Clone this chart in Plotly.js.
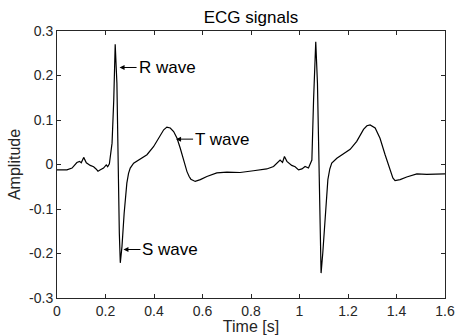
<!DOCTYPE html>
<html>
<head>
<meta charset="utf-8">
<script src="https://cdn.plot.ly/plotly-3.0.1.min.js"></script>
<style>html,body{margin:0;padding:0;background:#fff;}#chart{width:456px;height:335px;}</style>
</head>
<body>
<div id="chart"></div>
<script>
// Time axis (s)
var time = [0, 0.041, 0.062, 0.082, 0.093, 0.100, 0.110, 0.121, 0.137, 0.151, 0.161, 0.169, 0.179, 0.192, 0.203, 0.209, 0.216, 0.227, 0.234, 0.240, 0.247, 0.251, 0.257, 0.261, 0.268, 0.277, 0.288, 0.295, 0.302, 0.316, 0.343, 0.371, 0.398, 0.426, 0.440, 0.453, 0.467, 0.481, 0.495, 0.508, 0.522, 0.536, 0.545, 0.552, 0.570, 0.591, 0.618, 0.659, 0.701, 0.755, 0.810, 0.865, 0.893, 0.907, 0.920, 0.930, 0.938, 0.948, 0.968, 0.982, 0.996, 1.010, 1.023, 1.037, 1.044, 1.051, 1.058, 1.067, 1.074, 1.081, 1.085, 1.089, 1.096, 1.106, 1.117, 1.125, 1.133, 1.154, 1.181, 1.209, 1.236, 1.264, 1.278, 1.291, 1.312, 1.332, 1.353, 1.374, 1.385, 1.394, 1.415, 1.442, 1.484, 1.525, 1.600];
// ECG amplitude
var amplitude = [-0.012, -0.012, -0.008, 0.0045, 0.007, 0.004, 0.016, 0.004, -0.002, -0.005, -0.010, -0.015, -0.012, -0.008, -0.001, -0.005, 0.0015, 0.048, 0.145, 0.270, 0.183, -0.005, -0.154, -0.221, -0.184, -0.109, -0.042, -0.020, -0.008, 0.003, 0.012, 0.022, 0.040, 0.067, 0.078, 0.084, 0.082, 0.074, 0.059, 0.037, 0.010, -0.016, -0.027, -0.033, -0.038, -0.034, -0.027, -0.019, -0.017, -0.018, -0.014, -0.010, -0.0045, 0.003, 0.010, 0.0045, 0.018, 0.007, -0.002, -0.005, -0.012, -0.010, -0.0045, -0.008, 0.003, 0.010, 0.145, 0.276, 0.183, -0.005, -0.154, -0.244, -0.199, -0.109, -0.034, -0.010, 0.003, 0.014, 0.024, 0.034, 0.052, 0.079, 0.087, 0.089, 0.082, 0.059, 0.022, -0.016, -0.030, -0.036, -0.034, -0.028, -0.021, -0.022, -0.021];
// Annotations
var waveLabels = ["R wave", "T wave", "S wave"];
var waveX = [0.258, 0.491, 0.274];
var waveY = [0.218, 0.057, -0.191];

var FONT = "Liberation Sans, Arial, Helvetica, sans-serif";
var annotations = waveLabels.map(function (lab, i) {
  return {
    x: waveX[i], y: waveY[i], xref: 'x', yref: 'y',
    text: lab, showarrow: true, arrowhead: 2, arrowsize: 1, arrowwidth: 1,
    arrowcolor: '#000', ax: 17, ay: 0, xanchor: 'left', yanchor: 'middle',
    font: {family: FONT, size: 17, color: '#000'}
  };
});

var trace = {
  x: time, y: amplitude, type: 'scatter', mode: 'lines',
  line: {color: '#000', width: 1.2}, hoverinfo: 'skip'
};

var axisCommon = {
  showgrid: false, zeroline: false, showline: true, mirror: 'ticks',
  linecolor: '#262626', linewidth: 1, ticks: 'inside', ticklen: 4,
  tickcolor: '#262626', tickwidth: 1,
  tickfont: {family: FONT, size: 14, color: '#262626'}
};

var layout = {
  width: 456, height: 335,
  margin: {l: 57, r: 11, t: 31, b: 37, pad: 0},
  paper_bgcolor: '#fff', plot_bgcolor: '#fff',
  showlegend: false,
  title: {text: 'ECG signals', x: 0.5, xref: 'paper', y: 0.948, yref: 'container', yanchor: 'middle',
          font: {family: FONT, size: 17, color: '#000'}},
  xaxis: Object.assign({}, axisCommon, {
    range: [0, 1.6], tickvals: [0, 0.2, 0.4, 0.6, 0.8, 1, 1.2, 1.4, 1.6],
    ticktext: ['0', '0.2', '0.4', '0.6', '0.8', '1', '1.2', '1.4', '1.6'],
    title: {text: 'Time [s]', standoff: 0, font: {family: FONT, size: 16, color: '#262626'}}
  }),
  yaxis: Object.assign({}, axisCommon, {
    range: [-0.3, 0.3], tickvals: [-0.3, -0.2, -0.1, 0, 0.1, 0.2, 0.3],
    ticktext: ['-0.3', '-0.2', '-0.1', '0', '0.1', '0.2', '0.3'],
    title: {text: 'Amplitude', standoff: 4, font: {family: FONT, size: 16, color: '#262626'}}
  }),
  annotations: annotations
};

Plotly.newPlot('chart', [trace], layout, {displayModeBar: false, staticPlot: true});
</script>
</body>
</html>
